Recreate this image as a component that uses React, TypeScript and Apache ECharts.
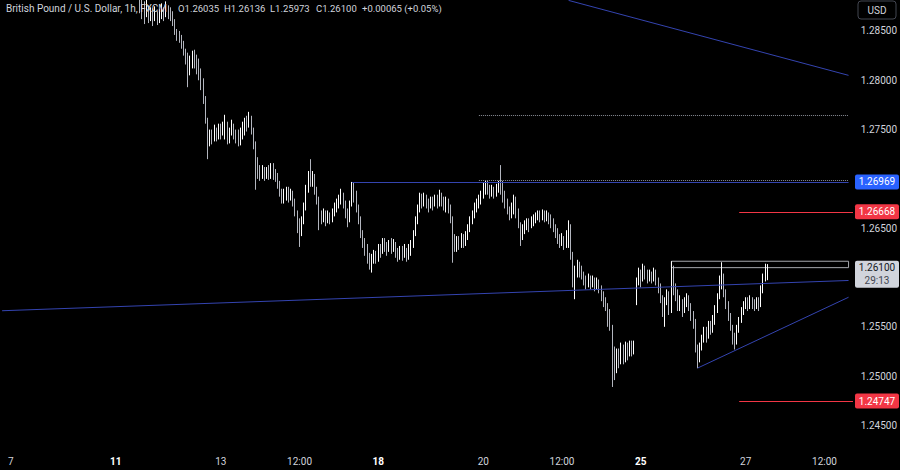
import React, { useEffect, useRef } from 'react';
import * as echarts from 'echarts';

// Hourly FX sessions shown on the chart: [day, first hour, last hour]
const tradingSessions: [string, number, number][] = [
  ['Nov 6', 20, 23], ['Nov 7', 0, 23], ['Nov 8', 0, 21], ['Nov 10', 22, 23],
  ['Nov 11', 0, 23], ['Nov 12', 0, 23], ['Nov 13', 0, 23], ['Nov 14', 0, 23], ['Nov 15', 0, 21], ['Nov 17', 22, 23],
  ['Nov 18', 0, 23], ['Nov 19', 0, 23], ['Nov 20', 0, 23], ['Nov 21', 0, 23], ['Nov 22', 0, 21], ['Nov 24', 22, 23],
  ['Nov 25', 0, 23], ['Nov 26', 0, 23], ['Nov 27', 0, 23], ['Nov 28', 0, 23],
];

const xTickLabels: [string, string, boolean][] = [
  ['Nov 7 00:00', '7', false], ['Nov 11 00:00', '11', true], ['Nov 13 00:00', '13', false],
  ['Nov 14 12:00', '12:00', false], ['Nov 18 00:00', '18', true], ['Nov 20 00:00', '20', false],
  ['Nov 21 12:00', '12:00', false], ['Nov 25 00:00', '25', true], ['Nov 27 00:00', '27', false],
  ['Nov 28 12:00', '12:00', false],
];

// 1.27000 and 1.26000 sit behind the price tags in the reference
const priceTicks = [1.245, 1.25, 1.255, 1.265, 1.275, 1.28, 1.285];

const firstBar = 'Nov 11 11:00';
const firstOpen = 1.2885;
const gapOpens: Record<string, number> = { 'Nov 24 22:00': 1.2592 };

const closes = [
  1.2874, 1.2870, 1.2868, 1.2872, 1.2864, 1.2867, 1.2862, 1.2866, 1.2862, 1.2865,
  1.2868, 1.2866, 1.2870, 1.2868, 1.2866, 1.2860, 1.2850, 1.2845, 1.2843, 1.2838,
  1.2830, 1.2822, 1.2814, 1.2818, 1.2822, 1.2820, 1.2815, 1.2808, 1.2800, 1.2780,
  1.2760, 1.2735, 1.2745, 1.2742, 1.2748, 1.2745, 1.2750, 1.2747, 1.2752, 1.2756,
  1.2740, 1.2748, 1.2752, 1.2746, 1.2744, 1.2738, 1.2746, 1.2752, 1.2758, 1.2754,
  1.2762, 1.2750, 1.2738, 1.2712, 1.2710, 1.2705, 1.2708, 1.2704, 1.2707, 1.2704,
  1.2708, 1.2705, 1.2703, 1.2697, 1.2688, 1.2680, 1.2684, 1.2688, 1.2683, 1.2686,
  1.2678, 1.2668, 1.2652, 1.2645, 1.2658, 1.2672, 1.2690, 1.2702, 1.2698, 1.2702,
  1.2690, 1.2680, 1.2664, 1.2660, 1.2664, 1.2658, 1.2662, 1.2660, 1.2666, 1.2670,
  1.2674, 1.2678, 1.2682, 1.2676, 1.2665, 1.2660, 1.2675, 1.2690, 1.2684, 1.2672,
  1.2660, 1.2645, 1.2636, 1.2630, 1.2620, 1.2614, 1.2618, 1.2622, 1.2620, 1.2630,
  1.2626, 1.2636, 1.2632, 1.2628, 1.2634, 1.2630, 1.2633, 1.2626, 1.2622, 1.2628,
  1.2624, 1.2627, 1.2622, 1.2628, 1.2634, 1.2645, 1.2658, 1.2670, 1.2680, 1.2676,
  1.2680, 1.2676, 1.2672, 1.2678, 1.2675, 1.2679, 1.2676, 1.2682, 1.2678, 1.2674,
  1.2677, 1.2672, 1.2660, 1.2640, 1.2630, 1.2638, 1.2634, 1.2640, 1.2636, 1.2642,
  1.2650, 1.2658, 1.2664, 1.2670, 1.2675, 1.2678, 1.2682, 1.2690, 1.2694, 1.2690,
  1.2686, 1.2690, 1.2686, 1.2690, 1.2694, 1.2690, 1.2684, 1.2676, 1.2670, 1.2664,
  1.2670, 1.2680, 1.2668, 1.2656, 1.2642, 1.2650, 1.2652, 1.2656, 1.2652, 1.2656,
  1.2660, 1.2662, 1.2664, 1.2662, 1.2665, 1.2661, 1.2664, 1.2660, 1.2656, 1.2652,
  1.2646, 1.2640, 1.2636, 1.2640, 1.2634, 1.2644, 1.2652, 1.2625, 1.2598, 1.2606,
  1.2612, 1.2608, 1.2604, 1.2598, 1.2595, 1.2598, 1.2594, 1.2597, 1.2592, 1.2595,
  1.2590, 1.2582, 1.2576, 1.2570, 1.2566, 1.2552, 1.2518, 1.2512, 1.2522, 1.2516,
  1.2528, 1.2520, 1.2530, 1.2524, 1.2532, 1.2526, 1.2532, 1.2598, 1.2604, 1.2600,
  1.2608, 1.2604, 1.2600, 1.2604, 1.2600, 1.2605, 1.2598, 1.2592, 1.2580, 1.2570,
  1.2576, 1.2584, 1.2568, 1.2612, 1.2590, 1.2584, 1.2572, 1.2576, 1.2568, 1.2574,
  1.2580, 1.2572, 1.2562, 1.2556, 1.2530, 1.2518, 1.2530, 1.2538, 1.2546, 1.2540,
  1.2552, 1.2548, 1.2556, 1.2568, 1.2580, 1.2596, 1.2600, 1.2586, 1.2574, 1.2562,
  1.2552, 1.2540, 1.2536, 1.2548, 1.2556, 1.2566, 1.2572, 1.2576, 1.2572, 1.2577,
  1.2574, 1.2572, 1.2576, 1.2572, 1.2588, 1.2600, 1.26035, 1.26100,
];

const highs = [
  1.2890, 1.2886, 1.2880, 1.2882, 1.2876, 1.2874, 1.2873, 1.2875, 1.2870, 1.2872,
  1.2878, 1.2874, 1.2880, 1.2876, 1.2874, 1.2870, 1.2862, 1.2852, 1.2850, 1.2846,
  1.2840, 1.2832, 1.2828, 1.2825, 1.2830, 1.2831, 1.2826, 1.2822, 1.2812, 1.2802,
  1.2784, 1.2762, 1.2750, 1.2750, 1.2755, 1.2752, 1.2756, 1.2756, 1.2758, 1.2765,
  1.2758, 1.2752, 1.2760, 1.2756, 1.2750, 1.2750, 1.2752, 1.2758, 1.2762, 1.2764,
  1.2768, 1.2764, 1.2752, 1.2738, 1.2722, 1.2714, 1.2714, 1.2712, 1.2712, 1.2714,
  1.2716, 1.2716, 1.2710, 1.2706, 1.2698, 1.2690, 1.2690, 1.2692, 1.2692, 1.2690,
  1.2688, 1.2680, 1.2668, 1.2660, 1.2662, 1.2676, 1.2694, 1.2708, 1.2720, 1.2708,
  1.2705, 1.2692, 1.2682, 1.2668, 1.2670, 1.2668, 1.2668, 1.2666, 1.2670, 1.2676,
  1.2680, 1.2684, 1.2690, 1.2686, 1.2678, 1.2670, 1.2678, 1.26969, 1.2696, 1.2688,
  1.2674, 1.2662, 1.2648, 1.2640, 1.2634, 1.2625, 1.2624, 1.2628, 1.2627, 1.2634,
  1.2634, 1.2640, 1.2640, 1.2636, 1.2638, 1.2640, 1.2639, 1.2636, 1.2630, 1.2632,
  1.2632, 1.2634, 1.2630, 1.2634, 1.2638, 1.2648, 1.2662, 1.2674, 1.2686, 1.2685,
  1.2686, 1.2684, 1.2680, 1.2682, 1.2682, 1.2684, 1.2684, 1.2689, 1.2686, 1.2682,
  1.2682, 1.2680, 1.2674, 1.2662, 1.2644, 1.2642, 1.2642, 1.2645, 1.2644, 1.2647,
  1.2654, 1.2662, 1.2668, 1.2676, 1.2680, 1.2684, 1.2688, 1.2696, 1.2698, 1.2698,
  1.2694, 1.2694, 1.2692, 1.2695, 1.2698, 1.2714, 1.2698, 1.2688, 1.2680, 1.2672,
  1.2676, 1.2684, 1.2682, 1.2670, 1.2656, 1.2654, 1.2658, 1.2660, 1.2660, 1.2662,
  1.2664, 1.2666, 1.2668, 1.2668, 1.2669, 1.2668, 1.2668, 1.2666, 1.2664, 1.2660,
  1.2654, 1.2650, 1.2644, 1.2645, 1.2642, 1.2648, 1.2658, 1.2654, 1.2626, 1.2612,
  1.2618, 1.2616, 1.2612, 1.2606, 1.2602, 1.2604, 1.2602, 1.2602, 1.2600, 1.2600,
  1.2598, 1.2592, 1.2586, 1.2580, 1.2574, 1.2568, 1.2552, 1.2530, 1.2528, 1.2528,
  1.2534, 1.2532, 1.2535, 1.2534, 1.2536, 1.2536, 1.2536, 1.2600, 1.2610, 1.2608,
  1.2614, 1.2612, 1.2608, 1.2608, 1.2606, 1.2610, 1.2608, 1.2600, 1.2594, 1.2582,
  1.2580, 1.2588, 1.2586, 1.26165, 1.2612, 1.2594, 1.2588, 1.2582, 1.2578, 1.2580,
  1.2584, 1.2582, 1.2574, 1.2566, 1.2558, 1.2532, 1.2534, 1.2542, 1.2550, 1.2550,
  1.2556, 1.2556, 1.2562, 1.2572, 1.2584, 1.2602, 1.26155, 1.2604, 1.2588, 1.2576,
  1.2564, 1.2552, 1.2544, 1.2552, 1.2560, 1.2570, 1.2576, 1.2580, 1.2580, 1.2582,
  1.2580, 1.2578, 1.2580, 1.2580, 1.2592, 1.2604, 1.2614, 1.26136,
];

const lows = [
  1.2868, 1.2862, 1.2857, 1.2864, 1.2858, 1.2860, 1.2855, 1.2860, 1.2856, 1.2858,
  1.2862, 1.2860, 1.2864, 1.2862, 1.2860, 1.2855, 1.2846, 1.2840, 1.2838, 1.2832,
  1.2825, 1.2816, 1.2793, 1.2805, 1.2812, 1.2812, 1.2806, 1.2800, 1.2790, 1.2776,
  1.2756, 1.2720, 1.2733, 1.2735, 1.2738, 1.2738, 1.2740, 1.2740, 1.2744, 1.2740,
  1.2735, 1.2736, 1.2744, 1.2740, 1.2736, 1.2733, 1.2734, 1.2740, 1.2744, 1.2748,
  1.2752, 1.2745, 1.2730, 1.2689, 1.2700, 1.2698, 1.2700, 1.2698, 1.2700, 1.2699,
  1.2700, 1.2699, 1.2697, 1.2690, 1.2682, 1.2675, 1.2675, 1.2678, 1.2676, 1.2678,
  1.2672, 1.2662, 1.2645, 1.2631, 1.2642, 1.2654, 1.2668, 1.2686, 1.2692, 1.2692,
  1.2684, 1.2674, 1.2648, 1.2654, 1.2656, 1.2652, 1.2655, 1.2654, 1.2656, 1.2662,
  1.2666, 1.2670, 1.2674, 1.2670, 1.2660, 1.2651, 1.2656, 1.2672, 1.2676, 1.2666,
  1.2654, 1.2640, 1.2630, 1.2622, 1.2614, 1.2608, 1.2605, 1.2614, 1.2614, 1.2616,
  1.2620, 1.2624, 1.2626, 1.2622, 1.2626, 1.2624, 1.2626, 1.2620, 1.2616, 1.2618,
  1.2617, 1.2620, 1.2616, 1.2618, 1.2622, 1.2630, 1.2642, 1.2654, 1.2666, 1.2670,
  1.2672, 1.2670, 1.2666, 1.2670, 1.2668, 1.2672, 1.2670, 1.2672, 1.2672, 1.2668,
  1.2666, 1.2665, 1.2655, 1.2615, 1.2626, 1.2626, 1.2628, 1.2630, 1.2630, 1.2632,
  1.2638, 1.2646, 1.2654, 1.2660, 1.2666, 1.2670, 1.2674, 1.2680, 1.2684, 1.2684,
  1.2680, 1.2682, 1.2680, 1.2682, 1.2686, 1.2684, 1.2676, 1.2670, 1.2664, 1.2658,
  1.2660, 1.2664, 1.2660, 1.2650, 1.2632, 1.2638, 1.2644, 1.2648, 1.2646, 1.2650,
  1.2652, 1.2655, 1.2658, 1.2656, 1.2658, 1.2656, 1.2657, 1.2654, 1.2650, 1.2646,
  1.2640, 1.2634, 1.2630, 1.2632, 1.2628, 1.2630, 1.2630, 1.2618, 1.2590, 1.2578,
  1.2600, 1.2600, 1.2598, 1.2592, 1.2588, 1.2590, 1.2588, 1.2590, 1.2586, 1.2588,
  1.2584, 1.2576, 1.2570, 1.2566, 1.2550, 1.2546, 1.2489, 1.2496, 1.2503, 1.2508,
  1.2512, 1.2512, 1.2514, 1.2516, 1.2520, 1.2520, 1.2522, 1.2572, 1.2592, 1.2590,
  1.2596, 1.2598, 1.2594, 1.2596, 1.2594, 1.2596, 1.2592, 1.2584, 1.2574, 1.2560,
  1.2550, 1.2572, 1.2562, 1.2564, 1.2582, 1.2576, 1.2566, 1.2566, 1.2560, 1.2564,
  1.2570, 1.2566, 1.2556, 1.2548, 1.2524, 1.2508, 1.2514, 1.2526, 1.2534, 1.2534,
  1.2538, 1.2542, 1.2544, 1.2552, 1.2564, 1.2578, 1.2588, 1.2580, 1.2568, 1.2556,
  1.2546, 1.2532, 1.2527, 1.2532, 1.2544, 1.2554, 1.2562, 1.2568, 1.2566, 1.2568,
  1.2568, 1.2566, 1.2568, 1.2566, 1.2570, 1.2584, 1.2596, 1.25973,
];

// Drawn lines: [from bar, from price, to bar, to price, color, type]
const drawnLines: [string, number, string, number, string, string][] = [
  ['Nov 15 12:00', 1.26969, 'Nov 28 23:00', 1.26969, '#3444b0', 'solid'],
  ['Nov 6 20:00', 1.25663, 'Nov 28 23:00', 1.25970, '#3444b0', 'solid'],
  ['Nov 21 15:00', 1.2881, 'Nov 28 23:00', 1.2805, '#3444b0', 'solid'],
  ['Nov 26 02:00', 1.25082, 'Nov 28 23:00', 1.2580, '#3444b0', 'solid'],
  ['Nov 19 22:00', 1.27648, 'Nov 28 23:00', 1.27648, '#8a8d96', 'dotted'],
  ['Nov 19 22:00', 1.2699, 'Nov 28 23:00', 1.2699, '#8a8d96', 'dotted'],
];
// Horizontal red levels: [from bar, price]
const redLevels: [string, number][] = [
  ['Nov 26 21:00', 1.26668],
  ['Nov 26 21:00', 1.24747],
];
const rangeBox: [string, number, string, number] = ['Nov 25 14:00', 1.26165, 'Nov 28 23:00', 1.26100];

const priceTags: [number, string, string, string][] = [
  [1.26969, '1.26969', '#2962ff', '#ffffff'],
  [1.26668, '1.26668', '#f23645', '#ffffff'],
  [1.24747, '1.24747', '#f23645', '#ffffff'],
];
const lastPrice = 1.261;
const lastPriceText = '1.26100';
const countdown = '29:13';

const legendTitle: [number, string] = [6, 'British Pound / U.S. Dollar, 1h, FXCM'];
const legendValues: [number, string][] = [
  [178, 'O1.26035'], [224, 'H1.26136'], [270, 'L1.25973'], [316, 'C1.26100'], [362, '+0.00065 (+0.05%)'],
];

const FONT = 'Roboto, "Noto Sans", sans-serif';

export default function App() {
  const ref = useRef<HTMLDivElement>(null);

  useEffect(() => {
    const el = ref.current!;
    const chart = echarts.init(el, null, { renderer: 'svg' });

    const categories: string[] = [];
    tradingSessions.forEach(([d, h0, h1]) => {
      for (let h = h0; h <= h1; h++) categories.push(`${d} ${String(h).padStart(2, '0')}:00`);
    });
    const startIdx = categories.indexOf(firstBar);
    const candleData = categories.map((c, i) => {
      const k = i - startIdx;
      if (k < 0 || k >= closes.length) return '-';
      const open = k === 0 ? firstOpen : (gapOpens[c] !== undefined ? gapOpens[c] : closes[k - 1]);
      return [open, closes[k], lows[k], highs[k]];
    });
    const tickMap: Record<string, [string, boolean]> = {};
    xTickLabels.forEach(([c, l, b]) => { tickMap[c] = [l, b]; });

    const option: any = {
      animation: false,
      backgroundColor: '#000000',
      grid: { left: 1, right: 47, top: 0, height: 450 },
      xAxis: {
        type: 'category',
        data: categories,
        axisLine: { show: false },
        axisTick: { show: false },
        splitLine: { show: false },
        axisLabel: {
          interval: (_i: number, v: string) => tickMap[v] !== undefined,
          formatter: (v: string) => {
            const t = tickMap[v];
            if (!t) return '';
            return t[1] ? `{b|${t[0]}}` : t[0];
          },
          color: '#d1d4dc',
          fontSize: 10,
          fontFamily: FONT,
          margin: 6,
          rich: { b: { fontWeight: 'bold', color: '#ffffff', fontSize: 10, fontFamily: FONT } },
        },
      },
      yAxis: {
        type: 'value',
        position: 'right',
        min: 1.24251,
        max: 1.28814,
        axisLine: { show: false },
        axisTick: { show: false },
        splitLine: { show: false },
        axisLabel: {
          customValues: priceTicks,
          formatter: (v: number) => v.toFixed(5),
          color: '#d1d4dc',
          fontSize: 10,
          fontFamily: FONT,
          margin: 11,
        },
      },
      series: [
        {
          type: 'candlestick',
          data: candleData,
          barWidth: 1,
          clip: true,
          itemStyle: {
            color: '#ffffff', color0: '#b2b5be',
            borderColor: '#ffffff', borderColor0: '#b2b5be', borderWidth: 1,
          },
          markLine: {
            silent: true,
            symbol: ['none', 'none'],
            label: { show: false },
            data: drawnLines.map(([a, p0, b, p1, col, t]) => [
              { coord: [a, p0], lineStyle: { color: col, width: 1, type: t } },
              { coord: [b, p1], lineStyle: { color: col, width: 1, type: t } },
            ]),
          },
          markArea: {
            silent: true,
            label: { show: false },
            itemStyle: { color: 'rgba(0,0,0,0)', borderColor: '#a6a8ae', borderWidth: 1 },
            data: [[{ coord: [rangeBox[0], rangeBox[1]] }, { coord: [rangeBox[2], rangeBox[3]] }]],
          },
        },
      ],
    };
    chart.setOption(option);

    const yOf = (p: number) => chart.convertToPixel({ yAxisIndex: 0 } as any, p) as number;
    const xOf = (c: string) => chart.convertToPixel({ xAxisIndex: 0 } as any, c) as number;
    const graphics: any[] = [];
    redLevels.forEach(([c, p]) => {
      const y = Math.round(yOf(p)) + 0.5;
      graphics.push({
        type: 'line', z: 50, silent: true,
        shape: { x1: xOf(c), y1: y, x2: 853, y2: y },
        style: { stroke: '#f23645', lineWidth: 1 },
      });
    });
    graphics.push({
      type: 'text', left: legendTitle[0], top: 3, z: 100,
      style: { text: legendTitle[1], fill: '#d1d4dc', fontSize: 10, fontFamily: FONT },
    });
    legendValues.forEach(([x, t]) => {
      graphics.push({
        type: 'text', left: x, top: 3.5, z: 100,
        style: { text: t, fill: '#d1d4dc', fontSize: 9.5, fontFamily: FONT },
      });
    });
    graphics.push({
      type: 'rect', shape: { x: 858, y: 1, width: 38, height: 18, r: 3 }, z: 100,
      style: { fill: '#000000', stroke: '#434651', lineWidth: 1 },
    });
    graphics.push({
      type: 'text', x: 877, y: 10, z: 101,
      style: { text: 'USD', fill: '#d1d4dc', fontSize: 10, fontFamily: FONT, align: 'center', verticalAlign: 'middle' },
    });
    priceTags.forEach(([p, t, bg, fg]) => {
      const y = yOf(p);
      graphics.push({
        type: 'rect', shape: { x: 855, y: y - 7.5, width: 44, height: 15, r: 2 }, z: 100,
        style: { fill: bg },
      });
      graphics.push({
        type: 'text', x: 877, y, z: 101,
        style: { text: t, fill: fg, fontSize: 10, fontFamily: FONT, align: 'center', verticalAlign: 'middle' },
      });
    });
    const ly = yOf(lastPrice);
    graphics.push({
      type: 'rect', shape: { x: 855, y: ly - 7, width: 44, height: 27, r: 2 }, z: 100,
      style: { fill: '#d1d4dc' },
    });
    graphics.push({
      type: 'text', x: 877, y: ly, z: 101,
      style: { text: lastPriceText, fill: '#131722', fontSize: 10, fontFamily: FONT, align: 'center', verticalAlign: 'middle' },
    });
    graphics.push({
      type: 'text', x: 877, y: ly + 12.5, z: 101,
      style: { text: countdown, fill: '#434651', fontSize: 10, fontFamily: FONT, align: 'center', verticalAlign: 'middle' },
    });
    chart.setOption({ graphic: graphics });

    return () => chart.dispose();
  }, []);

  return (
    <div
      ref={ref}
      style={{ position: 'fixed', left: 0, top: 0, width: 900, height: 470, background: '#000000' }}
    />
  );
}
